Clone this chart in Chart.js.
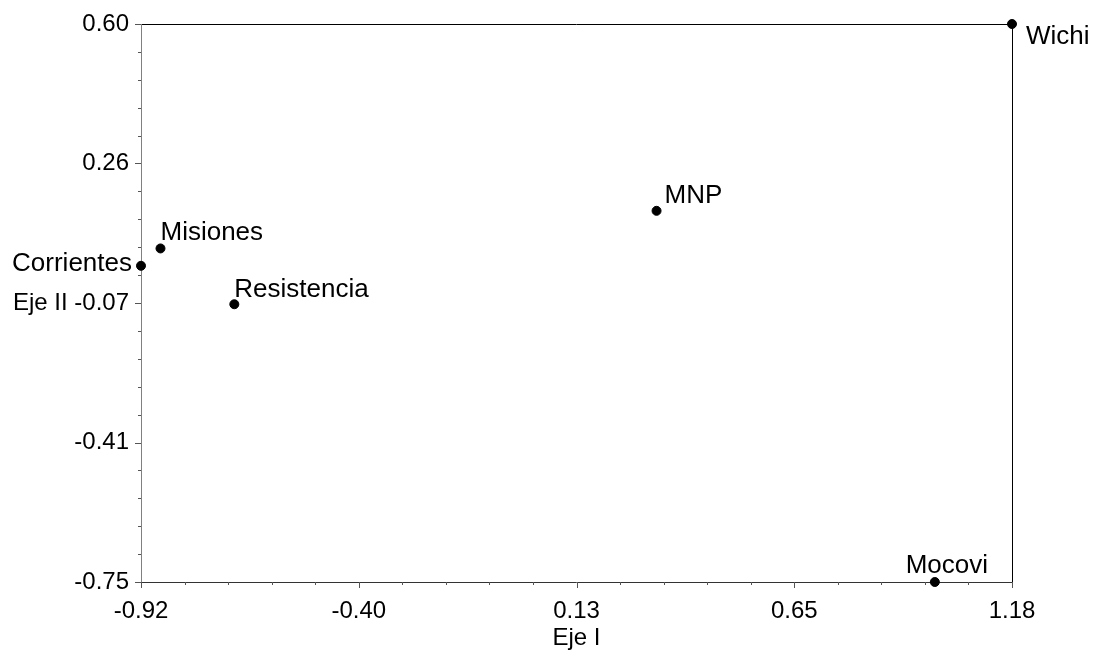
<!DOCTYPE html>
<html>
<head>
<meta charset="utf-8">
<script src="https://cdn.jsdelivr.net/npm/chart.js@4.4.1/dist/chart.umd.min.js"></script>
<style>
  body { margin: 0; background: #fff; }
  #wrap { width: 1106px; height: 650px; }
</style>
</head>
<body>
<div id="wrap"><canvas id="chart" width="1106" height="650"></canvas></div>
<script>
// Site names and their scores on the first two axes
const sites = ['Corrientes', 'Misiones', 'Resistencia', 'MNP', 'Wichi', 'Mocovi'];
const ejeI = [-0.92, -0.873, -0.695, 0.323, 1.18, 0.994];
const ejeII = [0.015, 0.057, -0.078, 0.148, 0.60, -0.75];

// Axis ranges and printed tick labels
const xRange = [-0.92, 1.18];
const yRange = [-0.75, 0.60];
const xTickLabels = ['-0.92', '-0.40', '0.13', '0.65', '1.18'];
const yTickLabels = ['-0.75', '-0.41', '-0.07', '0.26', '0.60'];
const minorSteps = 5;

// Where each site name sits next to its point
const labelPlacement = [
    { dx: -9, dy: 5, align: 'right' },
    { dx: 0, dy: -8, align: 'left' },
    { dx: 0, dy: -7, align: 'left' },
    { dx: 8, dy: -8, align: 'left' },
    { dx: 14, dy: 20, align: 'left' },
    { dx: 12, dy: -9, align: 'center' }
];

const FONT = '"Liberation Sans", Arial, sans-serif';

function evenTicks(range, n) {
    const step = (range[1] - range[0]) / (n - 1);
    const out = [];
    for (let i = 0; i < n; i++) out.push(range[0] + i * step);
    return out;
}

const xMajor = evenTicks(xRange, xTickLabels.length);
const yMajor = evenTicks(yRange, yTickLabels.length);

const frame = {
    id: 'frame',
    beforeDatasetsDraw(chart) {
        const ctx = chart.ctx;
        const { left, right, top, bottom } = chart.chartArea;
        const { x, y } = chart.scales;
        ctx.save();
        ctx.lineWidth = 1;

        // box: black top and right, grey left, dark bottom
        ctx.strokeStyle = '#000';
        ctx.beginPath();
        ctx.moveTo(left, top + 0.5);
        ctx.lineTo(right, top + 0.5);
        ctx.moveTo(right + 0.5, top);
        ctx.lineTo(right + 0.5, bottom + 6);
        ctx.stroke();

        ctx.strokeStyle = '#808080';
        ctx.beginPath();
        ctx.moveTo(left + 0.5, top);
        ctx.lineTo(left + 0.5, bottom + 6);
        ctx.stroke();

        ctx.strokeStyle = '#333';
        ctx.beginPath();
        ctx.moveTo(left, bottom + 0.5);
        ctx.lineTo(right, bottom + 0.5);
        ctx.stroke();

        // major and minor tick marks
        ctx.strokeStyle = '#555';
        ctx.beginPath();
        for (let i = 0; i < xMajor.length; i++) {
            const px = Math.round(x.getPixelForValue(xMajor[i])) + 0.5;
            ctx.moveTo(px, bottom);
            ctx.lineTo(px, bottom + 6);
            if (i < xMajor.length - 1) {
                const step = (xMajor[i + 1] - xMajor[i]) / minorSteps;
                for (let k = 1; k < minorSteps; k++) {
                    const mx = Math.round(x.getPixelForValue(xMajor[i] + k * step)) + 0.5;
                    ctx.moveTo(mx, bottom);
                    ctx.lineTo(mx, bottom + 3);
                }
            }
        }
        for (let i = 0; i < yMajor.length; i++) {
            const py = Math.round(y.getPixelForValue(yMajor[i])) + 0.5;
            ctx.moveTo(left - 6, py);
            ctx.lineTo(left, py);
            if (i < yMajor.length - 1) {
                const step = (yMajor[i + 1] - yMajor[i]) / minorSteps;
                for (let k = 1; k < minorSteps; k++) {
                    const my = Math.round(y.getPixelForValue(yMajor[i] + k * step)) + 0.5;
                    ctx.moveTo(left - 3, my);
                    ctx.lineTo(left, my);
                }
            }
        }
        ctx.stroke();
        ctx.restore();
    },
    afterDraw(chart) {
        // site names
        const ctx = chart.ctx;
        const meta = chart.getDatasetMeta(0);
        ctx.save();
        ctx.fillStyle = '#000';
        ctx.font = '26px ' + FONT;
        ctx.textBaseline = 'alphabetic';
        meta.data.forEach((pt, i) => {
            const p = labelPlacement[i];
            ctx.textAlign = p.align;
            ctx.fillText(sites[i], pt.x + p.dx, pt.y + p.dy);
        });
        ctx.restore();
    }
};

new Chart(document.getElementById('chart'), {
    type: 'scatter',
    data: {
        datasets: [{
            data: sites.map((s, i) => ({ x: ejeI[i], y: ejeII[i] })),
            backgroundColor: '#000',
            borderColor: '#000',
            pointRadius: 4.5,
            pointHoverRadius: 4.5,
            clip: false
        }]
    },
    options: {
        responsive: false,
        animation: false,
        layout: { padding: { left: 0, right: 94, top: 24, bottom: 0 } },
        plugins: {
            legend: { display: false },
            tooltip: { enabled: false }
        },
        scales: {
            x: {
                type: 'linear',
                min: xRange[0],
                max: xRange[1],
                grid: { display: false },
                border: { display: false },
                afterBuildTicks(scale) {
                    scale.ticks = xMajor.map(v => ({ value: v }));
                },
                afterFit(scale) { scale.height = 68; },
                ticks: {
                    padding: 7,
                    color: '#000',
                    font: { family: FONT, size: 24 },
                    maxRotation: 0,
                    autoSkip: false,
                    callback: (v, i) => xTickLabels[i]
                },
                title: {
                    display: true,
                    text: 'Eje I',
                    color: '#000',
                    font: { family: FONT, size: 24 },
                    padding: { top: 2, bottom: -3 }
                }
            },
            y: {
                type: 'linear',
                min: yRange[0],
                max: yRange[1],
                grid: { display: false },
                border: { display: false },
                afterBuildTicks(scale) {
                    scale.ticks = yMajor.map(v => ({ value: v }));
                },
                afterFit(scale) { scale.width = 141; },
                ticks: {
                    padding: 4,
                    color: '#000',
                    font: { family: FONT, size: 24 },
                    autoSkip: false,
                    callback: (v, i) => (i === 2 ? 'Eje II ' : '') + yTickLabels[i]
                }
            }
        }
    },
    plugins: [frame]
});
</script>
</body>
</html>
